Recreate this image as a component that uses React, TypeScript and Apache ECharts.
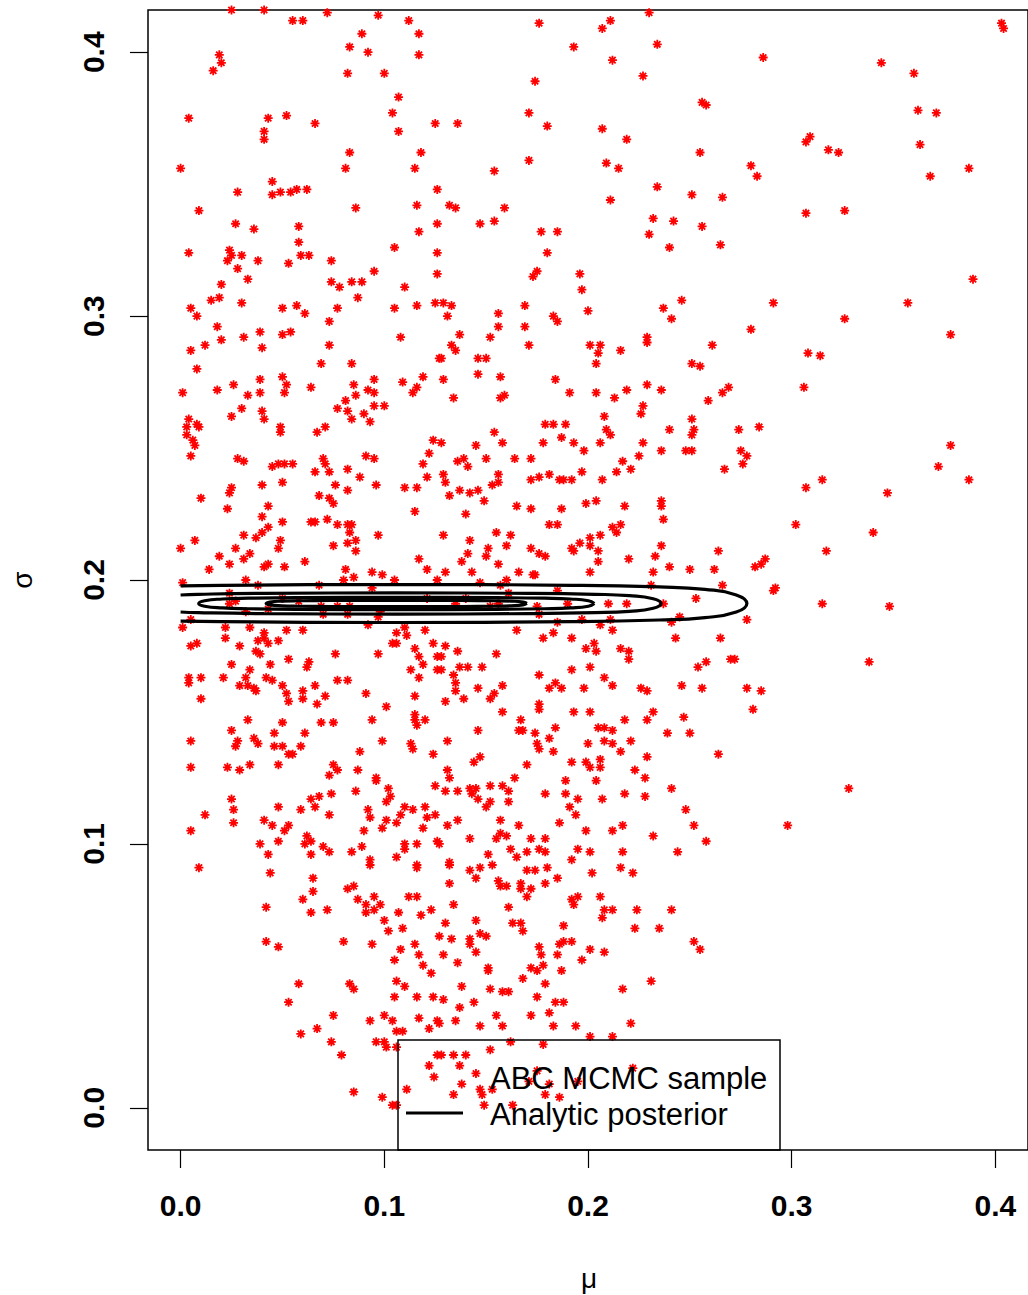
import React, { useEffect, useRef } from "react";
import * as echarts from "echarts";

const muTicks = [0, 0.1, 0.2, 0.3, 0.4];
const sigmaTicks = [0, 0.1, 0.2, 0.3, 0.4];
const axisRange = [-0.016, 0.416];

const samplesTopLeft = [
  [0.025,0.416],[0.041,0.416],[0.055,0.412],[0.060,0.412],[0.072,0.415],[0.097,0.414],[0.112,0.412],[0.117,0.407],[0.089,0.407],[0.083,0.402],[0.092,0.400],[0.117,0.399],[0.019,0.399],[0.020,0.396],[0.016,0.393],[0.082,0.392],[0.100,0.392],[0.107,0.383],[0.104,0.377],[0.125,0.373],[0.004,0.375],[0.043,0.375],[0.052,0.376],[0.066,0.373],[0.041,0.370],[0.041,0.367],[0.107,0.370],[0.083,0.362],[0.118,0.362],[0.000,0.356],[0.081,0.356],[0.115,0.356],[0.045,0.351],[0.028,0.347],[0.045,0.346],[0.049,0.347],[0.054,0.347],[0.057,0.348],[0.062,0.348],[0.126,0.348],[0.009,0.340],[0.086,0.341],[0.116,0.342],[0.027,0.335],[0.036,0.333],[0.058,0.334],[0.058,0.328],[0.117,0.332],[0.126,0.335],[0.004,0.324],[0.024,0.325],[0.025,0.323],[0.023,0.321],[0.030,0.323],[0.038,0.321],[0.028,0.318],[0.053,0.320],[0.059,0.323],[0.063,0.323],[0.074,0.321],[0.105,0.326],[0.095,0.317],[0.033,0.314],[0.020,0.312],[0.074,0.313],[0.078,0.311],[0.084,0.313],[0.089,0.313],[0.110,0.311],[0.126,0.324],[0.126,0.316]
];

const samplesUpperLeft = [
  [0.015,0.306],[0.019,0.307],[0.030,0.305],[0.005,0.303],[0.008,0.300],[0.050,0.303],[0.057,0.304],[0.061,0.301],[0.077,0.303],[0.087,0.307],[0.105,0.303],[0.116,0.304],[0.125,0.305],[0.018,0.296],[0.073,0.298],[0.031,0.292],[0.039,0.294],[0.050,0.293],[0.054,0.294],[0.020,0.291],[0.005,0.287],[0.012,0.289],[0.040,0.288],[0.073,0.289],[0.108,0.292],[0.008,0.280],[0.069,0.282],[0.084,0.282],[0.127,0.284],[0.001,0.271],[0.018,0.272],[0.026,0.274],[0.039,0.276],[0.050,0.277],[0.052,0.274],[0.033,0.270],[0.039,0.271],[0.051,0.271],[0.064,0.273],[0.085,0.274],[0.095,0.276],[0.092,0.272],[0.095,0.271],[0.086,0.270],[0.081,0.268],[0.109,0.275],[0.119,0.277],[0.116,0.273],[0.114,0.271],[0.095,0.266],[0.100,0.266],[0.025,0.262],[0.030,0.265],[0.040,0.264],[0.041,0.261],[0.077,0.265],[0.082,0.264],[0.084,0.261],[0.090,0.263],[0.093,0.260],[0.004,0.261],[0.003,0.258],[0.008,0.259],[0.009,0.258],[0.003,0.255],[0.006,0.253],[0.007,0.251],[0.005,0.247],[0.049,0.258],[0.049,0.256],[0.067,0.256],[0.071,0.258],[0.124,0.253],[0.122,0.248],[0.119,0.244],[0.121,0.239],[0.028,0.246],[0.031,0.245],[0.045,0.243],[0.048,0.244],[0.051,0.244],[0.055,0.244],[0.070,0.246],[0.071,0.244],[0.066,0.241],[0.073,0.241],[0.082,0.242],[0.091,0.247],[0.095,0.246],[0.088,0.239],[0.040,0.236],[0.050,0.237],[0.076,0.236],[0.082,0.234],[0.096,0.236],[0.110,0.235],[0.116,0.235],[0.025,0.235],[0.024,0.233],[0.010,0.231],[0.023,0.227],[0.043,0.228],[0.068,0.232],[0.073,0.231],[0.075,0.229],[0.115,0.226],[0.040,0.224],[0.050,0.222],[0.043,0.220],[0.040,0.218],[0.064,0.222],[0.066,0.222],[0.072,0.223],[0.077,0.221],[0.082,0.221],[0.084,0.221],[0.083,0.218],[0.086,0.215],[0.082,0.214],[0.086,0.211],[0.097,0.217],[0.075,0.213],[0.031,0.217],[0.037,0.216],[0.049,0.215],[0.048,0.212],[0.007,0.215],[0.000,0.212],[0.027,0.212],[0.034,0.210],[0.019,0.209],[0.031,0.208],[0.024,0.206],[0.041,0.205],[0.043,0.206],[0.051,0.205],[0.061,0.207],[0.014,0.204],[0.081,0.204],[0.094,0.203],[0.099,0.202],[0.117,0.208],[0.121,0.204]
];

const samplesMiddleLeft = [
  [0.001,0.199],[0.032,0.200],[0.038,0.198],[0.068,0.198],[0.024,0.195],[0.024,0.191],[0.027,0.192],[0.032,0.188],[0.043,0.189],[0.058,0.192],[0.069,0.190],[0.077,0.190],[0.083,0.190],[0.070,0.187],[0.082,0.187],[0.098,0.188],[0.097,0.186],[0.005,0.185],[0.001,0.182],[0.022,0.182],[0.034,0.182],[0.052,0.181],[0.060,0.181],[0.041,0.180],[0.092,0.183],[0.110,0.182],[0.120,0.181],[0.041,0.178],[0.038,0.177],[0.043,0.176],[0.048,0.177],[0.022,0.178],[0.005,0.175],[0.008,0.176],[0.029,0.175],[0.106,0.180],[0.111,0.179],[0.104,0.176],[0.106,0.176],[0.124,0.176],[0.037,0.173],[0.039,0.172],[0.076,0.172],[0.097,0.172],[0.115,0.174],[0.126,0.171],[0.053,0.170],[0.063,0.169],[0.062,0.167],[0.044,0.168],[0.025,0.168],[0.117,0.171],[0.119,0.168],[0.126,0.166],[0.113,0.166],[0.117,0.163],[0.034,0.166],[0.032,0.163],[0.004,0.163],[0.004,0.161],[0.010,0.163],[0.021,0.163],[0.029,0.160],[0.033,0.160],[0.036,0.159],[0.037,0.158],[0.042,0.163],[0.045,0.162],[0.050,0.160],[0.066,0.160],[0.077,0.162],[0.082,0.162],[0.010,0.155],[0.052,0.157],[0.053,0.154],[0.060,0.158],[0.060,0.155],[0.071,0.156],[0.067,0.153],[0.091,0.157],[0.115,0.156],[0.101,0.152],[0.033,0.147],[0.050,0.146],[0.069,0.146],[0.075,0.146],[0.094,0.147],[0.115,0.149],[0.115,0.147],[0.120,0.147],[0.116,0.145],[0.025,0.143],[0.005,0.139],[0.028,0.139],[0.027,0.137],[0.036,0.140],[0.038,0.138],[0.046,0.142],[0.046,0.137],[0.050,0.137],[0.061,0.142],[0.059,0.137],[0.053,0.134],[0.055,0.134],[0.099,0.139],[0.113,0.138],[0.114,0.136],[0.088,0.135],[0.124,0.134],[0.005,0.129],[0.023,0.129],[0.029,0.128],[0.034,0.130],[0.048,0.130],[0.075,0.130],[0.077,0.128],[0.073,0.126],[0.087,0.128],[0.096,0.125],[0.096,0.124],[0.086,0.120],[0.102,0.121],[0.103,0.118],[0.125,0.122],[0.025,0.117],[0.026,0.113],[0.026,0.108],[0.012,0.111],[0.005,0.105],[0.048,0.114],[0.064,0.117],[0.068,0.118],[0.074,0.119],[0.066,0.114],[0.059,0.113],[0.073,0.111],[0.092,0.113],[0.093,0.110],[0.101,0.116],[0.110,0.114],[0.114,0.113],[0.120,0.114],[0.121,0.110],[0.125,0.111],[0.108,0.111],[0.041,0.109],[0.045,0.107],[0.053,0.107],[0.051,0.105],[0.101,0.109],[0.099,0.106],[0.090,0.105],[0.106,0.108],[0.119,0.106],[0.039,0.100],[0.048,0.101],[0.043,0.096],[0.062,0.103],[0.061,0.100],[0.064,0.101],[0.064,0.096],[0.070,0.099],[0.073,0.097],[0.084,0.097],[0.089,0.099],[0.093,0.094],[0.106,0.095],[0.110,0.100],[0.110,0.098],[0.116,0.100],[0.126,0.101],[0.116,0.092],
  [0.050,0.193],[0.080,0.200],[0.085,0.201],[0.094,0.197],[0.105,0.200],[0.121,0.193],[0.126,0.200],[0.135,0.191],[0.152,0.190],[0.161,0.195],[0.174,0.202],[0.176,0.187],[0.190,0.191],[0.231,0.198]
];

const samplesBottomLeft = [
  [0.009,0.091],[0.044,0.089],[0.065,0.087],[0.093,0.092],[0.116,0.091],[0.065,0.082],[0.060,0.079],[0.082,0.083],[0.085,0.084],[0.087,0.079],[0.091,0.077],[0.091,0.074],[0.095,0.080],[0.098,0.077],[0.095,0.075],[0.112,0.080],[0.116,0.080],[0.042,0.076],[0.064,0.074],[0.072,0.075],[0.107,0.074],[0.118,0.073],[0.123,0.075],[0.100,0.071],[0.102,0.067],[0.109,0.068],[0.042,0.063],[0.048,0.061],[0.080,0.063],[0.094,0.062],[0.108,0.060],[0.115,0.062],[0.117,0.058],[0.105,0.056],[0.119,0.054],[0.123,0.051],[0.058,0.047],[0.083,0.047],[0.085,0.045],[0.106,0.048],[0.110,0.046],[0.053,0.040],[0.105,0.042],[0.116,0.042],[0.124,0.042],[0.075,0.035],[0.067,0.030],[0.059,0.028],[0.093,0.033],[0.100,0.035],[0.104,0.033],[0.117,0.034],[0.126,0.033],[0.122,0.030],[0.106,0.029],[0.109,0.029],[0.074,0.025],[0.096,0.025],[0.100,0.025],[0.101,0.023],[0.106,0.023],[0.079,0.020],[0.126,0.020],[0.122,0.016],[0.111,0.007],[0.085,0.006],[0.099,0.004],[0.104,0.001],[0.106,0.001]
];

const samplesTopCentre = [
  [0.176,0.411],[0.207,0.409],[0.211,0.412],[0.230,0.415],[0.193,0.402],[0.234,0.403],[0.212,0.397],[0.227,0.391],[0.174,0.389],[0.256,0.381],[0.258,0.380],[0.171,0.377],[0.136,0.373],[0.180,0.372],[0.207,0.371],[0.219,0.367],[0.255,0.362],[0.171,0.359],[0.154,0.355],[0.209,0.358],[0.215,0.356],[0.234,0.349],[0.251,0.346],[0.266,0.345],[0.211,0.344],[0.132,0.342],[0.135,0.341],[0.159,0.341],[0.147,0.335],[0.154,0.336],[0.232,0.337],[0.242,0.336],[0.256,0.334],[0.230,0.331],[0.177,0.332],[0.185,0.332],[0.240,0.326],[0.265,0.327],[0.180,0.324],[0.175,0.317],[0.173,0.315],[0.196,0.316],[0.197,0.310]
];

const samplesUpperCentre = [
  [0.129,0.305],[0.133,0.304],[0.131,0.300],[0.156,0.301],[0.169,0.304],[0.156,0.296],[0.169,0.296],[0.183,0.300],[0.185,0.298],[0.200,0.302],[0.237,0.303],[0.246,0.306],[0.241,0.299],[0.137,0.293],[0.152,0.292],[0.171,0.289],[0.133,0.289],[0.135,0.287],[0.229,0.292],[0.229,0.290],[0.201,0.289],[0.206,0.289],[0.205,0.286],[0.204,0.282],[0.216,0.287],[0.261,0.289],[0.146,0.284],[0.150,0.284],[0.128,0.284],[0.251,0.282],[0.255,0.281],[0.129,0.276],[0.146,0.278],[0.157,0.277],[0.184,0.276],[0.134,0.269],[0.157,0.269],[0.159,0.270],[0.191,0.271],[0.204,0.271],[0.213,0.269],[0.219,0.272],[0.229,0.274],[0.236,0.272],[0.227,0.266],[0.226,0.263],[0.259,0.268],[0.266,0.271],[0.269,0.273],[0.208,0.262],[0.179,0.259],[0.183,0.259],[0.189,0.259],[0.209,0.257],[0.211,0.255],[0.251,0.261],[0.252,0.257],[0.251,0.255],[0.240,0.257],[0.154,0.256],[0.187,0.254],[0.158,0.252],[0.128,0.252],[0.145,0.251],[0.178,0.252],[0.193,0.252],[0.206,0.252],[0.198,0.249],[0.227,0.252],[0.236,0.249],[0.248,0.249],[0.251,0.249],[0.225,0.247],[0.217,0.245],[0.221,0.242],[0.214,0.241],[0.267,0.242],[0.150,0.246],[0.164,0.246],[0.172,0.246],[0.136,0.245],[0.139,0.246],[0.141,0.243],[0.129,0.240],[0.130,0.237],[0.156,0.240],[0.156,0.237],[0.153,0.236],[0.172,0.238],[0.176,0.239],[0.181,0.240],[0.186,0.238],[0.188,0.238],[0.192,0.238],[0.197,0.241],[0.207,0.238],[0.132,0.232],[0.137,0.234],[0.142,0.233],[0.146,0.234],[0.149,0.230],[0.140,0.225],[0.165,0.228],[0.172,0.227],[0.187,0.227],[0.199,0.229],[0.204,0.230],[0.218,0.228],[0.236,0.230],[0.236,0.228],[0.237,0.223],[0.181,0.221],[0.185,0.221],[0.212,0.220],[0.214,0.218],[0.216,0.221],[0.129,0.217],[0.142,0.215],[0.155,0.218],[0.162,0.217],[0.160,0.213],[0.151,0.212],[0.141,0.210],[0.150,0.209],[0.138,0.207],[0.156,0.206],[0.172,0.212],[0.176,0.210],[0.179,0.209],[0.192,0.212],[0.196,0.214],[0.193,0.211],[0.201,0.216],[0.206,0.217],[0.201,0.213],[0.205,0.211],[0.205,0.207],[0.220,0.208],[0.236,0.213],[0.233,0.209],[0.240,0.205],[0.250,0.204],[0.262,0.204],[0.264,0.211],[0.130,0.203],[0.143,0.203],[0.166,0.203],[0.173,0.202],[0.201,0.203],[0.232,0.203]
];

const samplesMiddleCentre = [
  [0.266,0.198],[0.253,0.193],[0.210,0.191],[0.219,0.191],[0.237,0.191],[0.175,0.190],[0.185,0.196],[0.156,0.191],[0.140,0.193],[0.147,0.199],[0.157,0.198],[0.160,0.200],[0.241,0.184],[0.245,0.186],[0.206,0.183],[0.211,0.185],[0.212,0.181],[0.197,0.185],[0.185,0.184],[0.165,0.181],[0.178,0.178],[0.183,0.180],[0.192,0.178],[0.203,0.176],[0.204,0.173],[0.199,0.174],[0.216,0.174],[0.220,0.173],[0.220,0.170],[0.243,0.178],[0.265,0.178],[0.270,0.170],[0.130,0.175],[0.136,0.173],[0.155,0.172],[0.128,0.171],[0.137,0.167],[0.141,0.167],[0.148,0.167],[0.128,0.166],[0.192,0.166],[0.201,0.167],[0.254,0.167],[0.258,0.169],[0.176,0.164],[0.134,0.164],[0.135,0.161],[0.146,0.159],[0.135,0.158],[0.139,0.155],[0.130,0.154],[0.152,0.155],[0.154,0.157],[0.158,0.160],[0.181,0.159],[0.184,0.161],[0.187,0.159],[0.198,0.159],[0.208,0.163],[0.212,0.160],[0.226,0.159],[0.229,0.158],[0.246,0.160],[0.256,0.159],[0.176,0.153],[0.176,0.151],[0.158,0.150],[0.167,0.147],[0.193,0.150],[0.201,0.150],[0.218,0.147],[0.229,0.147],[0.232,0.150],[0.247,0.148],[0.146,0.143],[0.131,0.139],[0.166,0.143],[0.168,0.143],[0.174,0.142],[0.184,0.144],[0.181,0.140],[0.175,0.138],[0.176,0.136],[0.205,0.144],[0.208,0.144],[0.212,0.143],[0.200,0.138],[0.208,0.139],[0.212,0.138],[0.221,0.139],[0.239,0.142],[0.250,0.142],[0.264,0.134],[0.216,0.135],[0.183,0.135],[0.147,0.133],[0.144,0.131],[0.170,0.130],[0.192,0.131],[0.199,0.131],[0.206,0.132],[0.206,0.129],[0.201,0.129],[0.229,0.133],[0.223,0.128],[0.131,0.128],[0.132,0.125],[0.130,0.120],[0.136,0.120],[0.142,0.121],[0.145,0.121],[0.143,0.119],[0.146,0.117],[0.152,0.122],[0.158,0.122],[0.161,0.120],[0.164,0.125],[0.152,0.116],[0.150,0.114],[0.161,0.116],[0.179,0.119],[0.189,0.124],[0.189,0.119],[0.195,0.117],[0.191,0.114],[0.194,0.111],[0.204,0.124],[0.207,0.117],[0.218,0.119],[0.228,0.118],[0.228,0.125],[0.241,0.121],[0.248,0.113],[0.252,0.107],[0.258,0.101],[0.131,0.107],[0.136,0.109],[0.157,0.109],[0.166,0.107],[0.157,0.104],[0.160,0.103],[0.155,0.102],[0.142,0.102],[0.172,0.102],[0.179,0.102],[0.186,0.108],[0.199,0.105],[0.212,0.105],[0.217,0.107],[0.232,0.103],[0.244,0.097],[0.127,0.100],[0.151,0.096],[0.162,0.098],[0.165,0.095],[0.170,0.097],[0.176,0.098],[0.179,0.097],[0.195,0.098],[0.201,0.097],[0.192,0.094],[0.217,0.097],[0.132,0.093]
];

const samplesBottomCentre = [
  [0.132,0.092],[0.142,0.090],[0.147,0.091],[0.145,0.087],[0.153,0.092],[0.156,0.086],[0.157,0.084],[0.160,0.084],[0.167,0.085],[0.167,0.083],[0.170,0.090],[0.174,0.090],[0.180,0.091],[0.185,0.087],[0.179,0.085],[0.172,0.083],[0.170,0.080],[0.132,0.085],[0.202,0.089],[0.216,0.091],[0.222,0.089],[0.134,0.077],[0.161,0.076],[0.192,0.079],[0.195,0.080],[0.193,0.077],[0.206,0.080],[0.208,0.075],[0.207,0.072],[0.212,0.075],[0.224,0.075],[0.241,0.075],[0.130,0.070],[0.145,0.071],[0.163,0.070],[0.167,0.070],[0.168,0.067],[0.188,0.069],[0.223,0.068],[0.235,0.068],[0.127,0.065],[0.133,0.064],[0.142,0.064],[0.142,0.062],[0.147,0.066],[0.150,0.065],[0.176,0.061],[0.177,0.058],[0.186,0.062],[0.188,0.063],[0.192,0.063],[0.185,0.058],[0.201,0.060],[0.208,0.059],[0.197,0.056],[0.252,0.063],[0.255,0.060],[0.129,0.058],[0.145,0.059],[0.136,0.055],[0.151,0.053],[0.151,0.052],[0.172,0.053],[0.175,0.052],[0.178,0.054],[0.187,0.052],[0.168,0.049],[0.179,0.047],[0.138,0.046],[0.152,0.045],[0.158,0.044],[0.161,0.044],[0.217,0.045],[0.231,0.048],[0.129,0.041],[0.144,0.040],[0.175,0.042],[0.184,0.040],[0.188,0.040],[0.137,0.038],[0.181,0.036],[0.155,0.035],[0.172,0.035],[0.127,0.032],[0.135,0.033],[0.147,0.031],[0.158,0.031],[0.183,0.031],[0.194,0.031],[0.221,0.032],[0.201,0.027],[0.212,0.027],[0.162,0.025],[0.178,0.024],[0.152,0.022],[0.128,0.020],[0.134,0.020],[0.140,0.020],[0.137,0.016],[0.145,0.013],[0.138,0.009],[0.147,0.007],[0.153,0.007],[0.148,0.005],[0.134,0.005],[0.149,0.001],[0.163,0.001],[0.171,0.010],[0.175,0.014],[0.181,0.009],[0.179,0.005],[0.186,0.004],[0.195,0.010],[0.222,0.015]
];

const samplesRightUpper = [
  [0.403,0.411],[0.404,0.409],[0.286,0.398],[0.344,0.396],[0.360,0.392],[0.362,0.378],[0.371,0.377],[0.307,0.366],[0.309,0.368],[0.318,0.363],[0.323,0.362],[0.363,0.365],[0.280,0.357],[0.283,0.353],[0.368,0.353],[0.387,0.356],[0.307,0.339],[0.326,0.340],[0.389,0.314],[0.357,0.305],[0.291,0.305],[0.326,0.299],[0.378,0.293],[0.280,0.295],[0.308,0.286],[0.314,0.285],[0.306,0.273],[0.274,0.257],[0.284,0.258],[0.275,0.249],[0.278,0.247],[0.276,0.244],[0.378,0.251],[0.372,0.243],[0.387,0.238],[0.307,0.235],[0.315,0.238],[0.347,0.233],[0.302,0.221],[0.340,0.218],[0.317,0.211],[0.282,0.205],[0.285,0.206],[0.287,0.208]
];

const samplesRightLower = [
  [0.292,0.197],[0.291,0.196],[0.315,0.191],[0.348,0.190],[0.278,0.185],[0.272,0.170],[0.338,0.169],[0.278,0.159],[0.285,0.158],[0.281,0.151],[0.328,0.121],[0.298,0.107]
];

// Analytic posterior contours (mu, sigma)
const contourInner = [
  [0.170,0.1911],[0.1681,0.19164],[0.1623,0.19199],[0.154,0.19214],[0.138,0.19225],[0.106,0.1923],[0.074,0.19225],[0.058,0.19214],[0.0497,0.19199],[0.0439,0.19164],[0.042,0.1911],
  [0.0439,0.19056],[0.0497,0.19021],[0.058,0.19006],[0.074,0.18995],[0.106,0.1899],[0.138,0.18995],[0.154,0.19006],[0.1623,0.19021],[0.1681,0.19056],[0.170,0.1911]
];
const contourSecond = [
  [0.2031,0.1911],[0.2002,0.19214],[0.1914,0.1928],[0.1788,0.1931],[0.1546,0.19331],[0.106,0.1934],[0.0574,0.19331],[0.0332,0.1931],[0.0206,0.1928],[0.0118,0.19214],[0.0089,0.1911],
  [0.0118,0.19006],[0.0206,0.1894],[0.0332,0.1891],[0.0574,0.18889],[0.106,0.1888],[0.1546,0.18889],[0.1788,0.1891],[0.1914,0.1894],[0.2002,0.19006],[0.2031,0.1911]
];
const contourThird = [
  [0,0.19432],[0.0086,0.19458],[0.041,0.19494],[0.106,0.1951],[0.171,0.19494],[0.2034,0.19458],[0.2203,0.19406],[0.232,0.1929],[0.2359,0.1911],
  [0.232,0.1893],[0.2203,0.18814],[0.2034,0.18762],[0.171,0.18726],[0.106,0.1871],[0.041,0.18726],[0.0086,0.18762],[0,0.18788]
];
const contourOuter = [
  [0,0.1978],[0.020,0.1980],[0.106,0.1983],[0.192,0.1980],[0.235,0.19737],[0.2574,0.19644],[0.2728,0.19435],[0.278,0.1911],
  [0.2728,0.18786],[0.2574,0.18577],[0.235,0.18484],[0.192,0.1842],[0.106,0.1839],[0.020,0.1842],[0,0.18441]
];

const legendLabels = ["ABC MCMC sample", "Analytic posterior"];

const FONT = "'Liberation Sans', Arial, Helvetica, sans-serif";
const ASTERISK = "path://M4 0 L4 8 M0 4 L8 4 M1.17 1.17 L6.83 6.83 M1.17 6.83 L6.83 1.17";

export default function App() {
  const ref = useRef<HTMLDivElement>(null);
  useEffect(() => {
    if (!ref.current) return;
    const chart = echarts.init(ref.current, null, { renderer: "svg" });
    const allSamples = [
      ...samplesTopLeft, ...samplesUpperLeft, ...samplesMiddleLeft, ...samplesBottomLeft,
      ...samplesTopCentre, ...samplesUpperCentre, ...samplesMiddleCentre, ...samplesBottomCentre,
      ...samplesRightUpper, ...samplesRightLower,
    ];
    const contourSeries = [contourInner, contourSecond, contourThird, contourOuter].map((c, i) => ({
      type: "line",
      name: "contour" + i,
      data: c,
      smooth: 0.5,
      showSymbol: false,
      symbol: "none",
      clip: true,
      z: 5,
      lineStyle: { color: "#000", width: 3.2 },
      silent: true,
    }));
    const ax = (ticks: number[], rotate: number, margin: number) => ({
      type: "value",
      min: axisRange[0],
      max: axisRange[1],
      splitLine: { show: false },
      axisLine: { show: false, onZero: false },
      axisTick: { show: true, length: 18, inside: false, customValues: ticks, lineStyle: { color: "#000", width: 1.2 } },
      axisLabel: {
        customValues: ticks,
        rotate,
        margin,
        color: "#000",
        fontFamily: FONT,
        fontWeight: "bold",
        fontSize: 30,
        formatter: (v: number) => v.toFixed(1),
      },
    });
    const s = 4.5;
    const d = 3.2;
    const cx = 434, cy = 1077;
    const legendStar = { stroke: "#ff0000", lineWidth: 1.8 };
    chart.setOption({
      animation: false,
      backgroundColor: "#fff",
      grid: {
        left: 148, top: 10, width: 881, height: 1140,
        show: true, borderColor: "#000", borderWidth: 1.5, backgroundColor: "transparent",
        containLabel: false,
      },
      xAxis: { ...ax(muTicks, 0, 40), position: "bottom" },
      yAxis: { ...ax(sigmaTicks, 90, 40), position: "left" },
      series: [
        {
          type: "scatter",
          name: legendLabels[0],
          data: allSamples,
          symbol: ASTERISK,
          symbolSize: 9,
          clip: true,
          z: 2,
          itemStyle: { color: "rgba(0,0,0,0)", borderColor: "#ff0000", borderWidth: 1.8, opacity: 1 },
          silent: true,
        },
        ...contourSeries,
      ],
      graphic: [
        { type: "rect", z: 100, shape: { x: 398, y: 1040, width: 382, height: 110 }, style: { fill: "none", stroke: "#000", lineWidth: 1.5 } },
        { type: "line", z: 100, shape: { x1: cx, y1: cy - s, x2: cx, y2: cy + s }, style: legendStar },
        { type: "line", z: 100, shape: { x1: cx - s, y1: cy, x2: cx + s, y2: cy }, style: legendStar },
        { type: "line", z: 100, shape: { x1: cx - d, y1: cy - d, x2: cx + d, y2: cy + d }, style: legendStar },
        { type: "line", z: 100, shape: { x1: cx - d, y1: cy + d, x2: cx + d, y2: cy - d }, style: legendStar },
        { type: "line", z: 100, shape: { x1: 406, y1: 1113, x2: 463, y2: 1113 }, style: { stroke: "#000", lineWidth: 3 } },
        { type: "text", z: 100, x: 490, y: 1078, style: { text: legendLabels[0], fill: "#000", font: `31px ${FONT}`, verticalAlign: "middle", align: "left" } },
        { type: "text", z: 100, x: 490, y: 1114, style: { text: legendLabels[1], fill: "#000", font: `31px ${FONT}`, verticalAlign: "middle", align: "left" } },
        { type: "text", z: 100, x: 589, y: 1278, style: { text: "μ", fill: "#000", font: `28px ${FONT}`, verticalAlign: "middle", align: "center" } },
        { type: "text", z: 100, x: 22, y: 580, rotation: Math.PI / 2, style: { text: "σ", fill: "#000", font: `28px ${FONT}`, verticalAlign: "middle", align: "center" } },
      ],
    });
    return () => chart.dispose();
  }, []);
  return (
    <div
      ref={ref}
      style={{ position: "absolute", left: 0, top: 0, width: 1028, height: 1295, background: "#fff", overflow: "hidden" }}
    />
  );
}
